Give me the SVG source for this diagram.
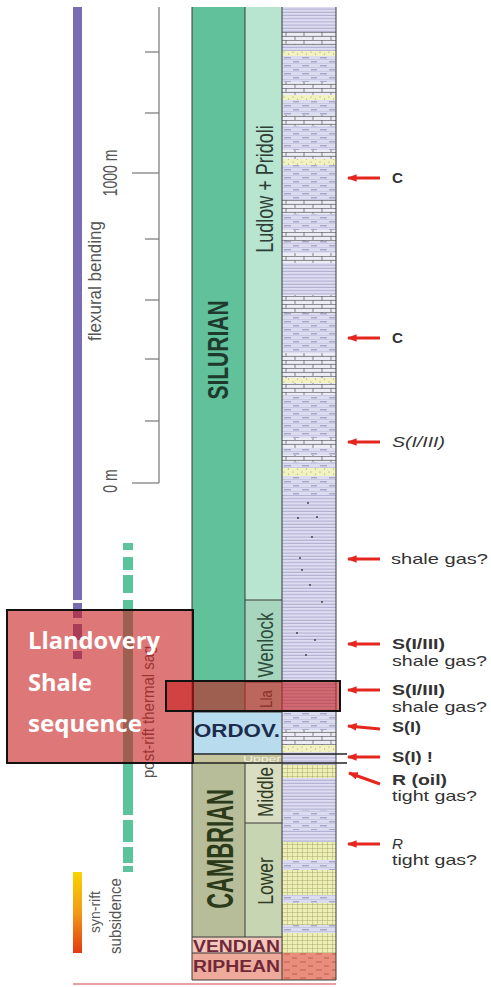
<svg xmlns="http://www.w3.org/2000/svg" width="491" height="987" viewBox="0 0 491 987">
<style>
.t{font-family:"Liberation Sans",Arial,sans-serif}
.b{font-weight:bold}
.cb{stroke:#3a3a3a;stroke-width:1;fill:none}
.gl{font-family:"Liberation Sans",Arial,sans-serif;fill:#555}
.lab{font-family:"Liberation Sans",Arial,sans-serif;font-size:14.5px;fill:#333}
.arr{stroke:#e5261f;stroke-width:3;fill:none;marker-end:url(#ah)}
.tick{stroke:#808080;stroke-width:1.3}
</style>
<defs>
<marker id="ah" viewBox="0 0 10 8" refX="9" refY="4" markerWidth="3.2" markerHeight="2.6" orient="auto"><path d="M0,0 L10,4 L0,8 z" fill="#e5261f"/></marker>
<linearGradient id="syn" x1="0" y1="0" x2="0" y2="1"><stop offset="0" stop-color="#f8d400"/><stop offset="0.5" stop-color="#f29a18"/><stop offset="1" stop-color="#e23a12"/></linearGradient>
<pattern id="pL" x="282" y="0" width="10" height="3.2" patternUnits="userSpaceOnUse"><rect width="10" height="3.2" fill="#dddcf0"/><line x1="0" y1="2.6" x2="10" y2="2.6" stroke="#8e8ebc" stroke-width="0.7"/></pattern>
<pattern id="pM" x="282" y="0" width="18" height="8" patternUnits="userSpaceOnUse"><rect width="18" height="8" fill="#dcdcf0"/><line x1="0" y1="3.5" x2="18" y2="3.5" stroke="#b4b4d4" stroke-width="0.5"/><line x1="0" y1="7.5" x2="18" y2="7.5" stroke="#b4b4d4" stroke-width="0.5"/><line x1="2" y1="1.8" x2="9" y2="1.8" stroke="#7c7cac" stroke-width="0.8"/><line x1="11" y1="5.8" x2="17" y2="5.8" stroke="#7c7cac" stroke-width="0.8"/></pattern>
<pattern id="pC" x="282" y="0" width="18" height="8" patternUnits="userSpaceOnUse"><rect width="18" height="8" fill="#ececf6"/><line x1="0" y1="0.4" x2="18" y2="0.4" stroke="#555" stroke-width="0.7"/><line x1="0" y1="4.4" x2="18" y2="4.4" stroke="#555" stroke-width="0.7"/><line x1="4" y1="0" x2="4" y2="4.4" stroke="#555" stroke-width="0.7"/><line x1="13" y1="4.4" x2="13" y2="8" stroke="#555" stroke-width="0.7"/></pattern>
<pattern id="pY" x="282" y="0" width="9" height="5" patternUnits="userSpaceOnUse"><rect width="9" height="5" fill="#f1f1c2"/><circle cx="2" cy="2" r="0.6" fill="#9a9a50"/><circle cx="6.5" cy="4" r="0.6" fill="#9a9a50"/></pattern>
<pattern id="pS" x="282" y="0" width="5" height="4" patternUnits="userSpaceOnUse"><rect width="5" height="4" fill="#eeefb4"/><path d="M0,0.3 H5 M0.3,0 V4" stroke="#a8a86a" stroke-width="0.6" fill="none"/></pattern>
<pattern id="pR" x="282" y="0" width="16" height="8" patternUnits="userSpaceOnUse"><rect width="16" height="8" fill="#e98e7c"/><line x1="2" y1="2" x2="8" y2="2" stroke="#b5503e" stroke-width="0.8"/><line x1="10" y1="6" x2="15" y2="6" stroke="#b5503e" stroke-width="0.8"/></pattern>
</defs>
<rect width="491" height="987" fill="#fff"/>

<g id="subsidence-bars">
<rect x="73" y="7" width="9" height="593" fill="#7a6cb2"/>
<rect x="73" y="603" width="9" height="15" fill="#7a6cb2"/>
<rect x="73" y="624" width="9" height="16" fill="#7a6cb2"/>
<rect x="73" y="651" width="9" height="8" fill="#7a6cb2"/>
<g fill="#5cc49b">
<rect x="123" y="543" width="10" height="7"/>
<rect x="123" y="557" width="10" height="13"/>
<rect x="123" y="575" width="10" height="18"/>
<rect x="123" y="600" width="10" height="215"/>
<rect x="123" y="820" width="10" height="22"/>
<rect x="123" y="847" width="10" height="16"/>
<rect x="123" y="866" width="10" height="6"/>
</g>
<rect x="73" y="872" width="9" height="81" fill="url(#syn)"/>
</g>

<g id="scale">
<line x1="159" y1="7" x2="159" y2="483" class="tick"/>
<line x1="145" y1="52" x2="159" y2="52" class="tick"/>
<line x1="145" y1="113" x2="159" y2="113" class="tick"/>
<line x1="132" y1="173" x2="159" y2="173" class="tick"/>
<line x1="145" y1="239" x2="159" y2="239" class="tick"/>
<line x1="145" y1="300" x2="159" y2="300" class="tick"/>
<line x1="145" y1="359" x2="159" y2="359" class="tick"/>
<line x1="145" y1="421" x2="159" y2="421" class="tick"/>
<line x1="132" y1="483" x2="159" y2="483" class="tick"/>
<text class="gl" font-size="14" text-anchor="middle" transform="translate(117,173) scale(1.4,1) rotate(-90)">1000 m</text>
<text class="gl" font-size="14" text-anchor="middle" transform="translate(117,481) scale(1.4,1) rotate(-90)">0 m</text>
<text class="gl" font-size="17" text-anchor="middle" transform="translate(101,281) scale(1.05,1) rotate(-90)">flexural bending</text>
<text class="gl" font-size="15" transform="translate(154,778) scale(1.1,1) rotate(-90)">post-rift thermal sag</text>
<text class="gl" font-size="14" text-anchor="middle" transform="translate(100,912) scale(1.1,1) rotate(-90)">syn-rift</text>
<text class="gl" font-size="15" text-anchor="middle" transform="translate(121,916) scale(1.05,1) rotate(-90)">subsidence</text>
</g>

<g id="silurian">
<rect x="192" y="7" width="53" height="705" fill="#60c19b"/>
<text class="t b" font-size="21" fill="#1f3a2c" text-anchor="middle" transform="translate(228,350) scale(1.4,1) rotate(-90)">SILURIAN</text>
</g>
<g id="ludlow-pridoli">
<rect x="245" y="7" width="37" height="593" fill="#b8e5d0"/>
<text class="t" font-size="18" fill="#2e3e36" text-anchor="middle" transform="translate(273,189) scale(1.3,1) rotate(-90)">Ludlow + Pridoli</text>
</g>
<g id="wenlock">
<rect x="245" y="600" width="37" height="82" fill="#a7d5bd"/>
<text class="t" font-size="17" fill="#2a4a3a" text-anchor="middle" transform="translate(273,645) scale(1.3,1) rotate(-90)">Wenlock</text>
</g>
<g id="llandovery">
<rect x="245" y="682" width="37" height="30" fill="#a7d5bd"/>
<text class="t" font-size="13" fill="#2a4a3a" text-anchor="middle" transform="translate(272,699) scale(1.3,1) rotate(-90)">Lla</text>
</g>
<g id="ordovician">
<rect x="192" y="712" width="90" height="43" fill="#b8dced"/>
<text class="t b" x="194" y="737" font-size="19" fill="#1c2c4c" textLength="86" lengthAdjust="spacingAndGlyphs">ORDOV.</text>
</g>
<g id="cambrian">
<rect x="192" y="755" width="53" height="182" fill="#b6bd98"/>
<text class="t b" font-size="22" fill="#2b3a18" text-anchor="middle" transform="translate(233,849) scale(1.65,1) rotate(-90)">CAMBRIAN</text>
</g>
<g id="upper">
<rect x="192" y="755" width="90" height="8" fill="#c6c49a"/>
<text class="t" x="262" y="762" font-size="8.5" fill="#f2f0e0" text-anchor="middle" textLength="38" lengthAdjust="spacingAndGlyphs">Upper</text>
</g>
<g id="middle">
<rect x="245" y="763" width="37" height="60" fill="#d9ddc2"/>
<text class="t" font-size="17" fill="#2e3a22" text-anchor="middle" transform="translate(273,792) scale(1.3,1) rotate(-90)">Middle</text>
</g>
<g id="lower">
<rect x="245" y="823" width="37" height="114" fill="#c8d5b3"/>
<text class="t" font-size="17.5" fill="#2e3a22" text-anchor="middle" transform="translate(273,881) scale(1.3,1) rotate(-90)">Lower</text>
</g>
<g id="vendian">
<rect x="192" y="937" width="90" height="16" fill="#f2c9bc"/>
<text class="t b" x="193" y="952" font-size="16" fill="#702838" textLength="87" lengthAdjust="spacingAndGlyphs">VENDIAN</text>
</g>
<g id="riphean">
<rect x="192" y="953" width="90" height="27" fill="#eeaa9a"/>
<text class="t b" x="193" y="972" font-size="16" fill="#702838" textLength="87" lengthAdjust="spacingAndGlyphs">RIPHEAN</text>
</g>

<g id="lithology">
<rect x="282" y="7" width="54" height="973" fill="url(#pL)"/>
<rect x="282" y="32" width="54" height="13" fill="url(#pC)"/>
<rect x="282" y="51" width="54" height="5" fill="url(#pY)"/>
<rect x="282" y="56" width="54" height="26" fill="url(#pM)"/>
<rect x="282" y="82" width="54" height="13" fill="url(#pC)"/>
<rect x="282" y="95" width="54" height="5" fill="url(#pY)"/>
<rect x="282" y="100" width="54" height="15" fill="url(#pM)"/>
<rect x="282" y="115" width="54" height="11" fill="url(#pC)"/>
<rect x="282" y="126" width="54" height="24" fill="url(#pM)"/>
<rect x="282" y="150" width="54" height="9" fill="url(#pC)"/>
<rect x="282" y="159" width="54" height="6" fill="url(#pY)"/>
<rect x="282" y="165" width="54" height="35" fill="url(#pM)"/>
<rect x="282" y="200" width="54" height="14" fill="url(#pC)"/>
<rect x="282" y="214" width="54" height="16" fill="url(#pM)"/>
<rect x="282" y="230" width="54" height="11" fill="url(#pC)"/>
<rect x="282" y="241" width="54" height="12" fill="url(#pM)"/>
<rect x="282" y="253" width="54" height="10" fill="url(#pC)"/>
<rect x="282" y="295" width="54" height="18" fill="url(#pC)"/>
<rect x="282" y="313" width="54" height="40" fill="url(#pM)"/>
<rect x="282" y="353" width="54" height="25" fill="url(#pC)"/>
<rect x="282" y="378" width="54" height="5" fill="url(#pY)"/>
<rect x="282" y="383" width="54" height="12" fill="url(#pC)"/>
<rect x="282" y="395" width="54" height="43" fill="url(#pM)"/>
<rect x="282" y="438" width="54" height="10" fill="url(#pC)"/>
<rect x="282" y="448" width="54" height="7" fill="url(#pM)"/>
<rect x="282" y="455" width="54" height="7" fill="url(#pC)"/>
<rect x="282" y="462" width="54" height="6" fill="url(#pM)"/>
<rect x="282" y="468" width="54" height="8" fill="url(#pY)"/>
<rect x="282" y="476" width="54" height="19" fill="url(#pM)"/>
<rect x="282" y="712" width="54" height="18" fill="url(#pM)"/>
<rect x="282" y="730" width="54" height="15" fill="url(#pC)"/>
<rect x="282" y="745" width="54" height="7" fill="url(#pY)"/>
<rect x="282" y="765" width="54" height="13" fill="url(#pS)"/>
<rect x="282" y="810" width="54" height="20" fill="url(#pM)"/>
<rect x="282" y="842" width="54" height="18" fill="url(#pS)"/>
<rect x="282" y="860" width="54" height="10" fill="url(#pM)"/>
<rect x="282" y="870" width="54" height="25" fill="url(#pS)"/>
<rect x="282" y="895" width="54" height="8" fill="url(#pM)"/>
<rect x="282" y="903" width="54" height="22" fill="url(#pS)"/>
<rect x="282" y="925" width="54" height="8" fill="url(#pM)"/>
<rect x="282" y="933" width="54" height="20" fill="url(#pS)"/>
<rect x="282" y="953" width="54" height="27" fill="url(#pR)"/>
<g fill="#333">
<circle cx="308" cy="503" r="0.9"/><circle cx="298" cy="518" r="0.9"/><circle cx="317" cy="517" r="0.9"/>
<circle cx="312" cy="537" r="0.9"/><circle cx="300" cy="558" r="0.9"/><circle cx="302" cy="570" r="0.9"/>
<circle cx="310" cy="585" r="0.9"/><circle cx="322" cy="602" r="0.9"/><circle cx="297" cy="633" r="0.9"/>
<circle cx="315" cy="640" r="0.9"/><circle cx="306" cy="655" r="0.9"/>
</g>
</g>

<g id="borders">
<line x1="192" y1="7" x2="192" y2="980" class="cb"/>
<line x1="245" y1="7" x2="245" y2="712" class="cb"/>
<line x1="245" y1="763" x2="245" y2="937" class="cb"/>
<line x1="282" y1="7" x2="282" y2="980" class="cb"/>
<line x1="336" y1="7" x2="336" y2="980" class="cb" stroke-width="1.3"/>
<line x1="245" y1="600" x2="282" y2="600" class="cb"/>
<line x1="245" y1="682" x2="282" y2="682" class="cb"/>
<line x1="192" y1="712" x2="282" y2="712" class="cb"/>
<line x1="245" y1="823" x2="282" y2="823" class="cb"/>
<line x1="192" y1="937" x2="282" y2="937" class="cb"/>
<line x1="192" y1="953" x2="282" y2="953" class="cb"/>
<line x1="192" y1="980" x2="336" y2="980" class="cb"/>
<line x1="192" y1="754" x2="347" y2="754" stroke="#222" stroke-width="1.3"/>
<line x1="192" y1="763" x2="347" y2="763" stroke="#222" stroke-width="1.3"/>
<line x1="73" y1="984" x2="336" y2="984" stroke="#eaa0a0" stroke-width="2"/>
</g>

<g id="connectors">
<line x1="380" y1="178" x2="348" y2="178" class="arr"/>
<line x1="380" y1="338" x2="348" y2="338" class="arr"/>
<line x1="380" y1="442" x2="348" y2="442" class="arr"/>
<line x1="380" y1="559" x2="348" y2="559" class="arr"/>
<line x1="380" y1="644" x2="348" y2="644" class="arr"/>
<line x1="380" y1="690" x2="348" y2="690" class="arr"/>
<line x1="380" y1="729" x2="348" y2="726" class="arr"/>
<line x1="380" y1="757" x2="348" y2="757" class="arr"/>
<line x1="380" y1="784" x2="349" y2="773" class="arr"/>
<line x1="380" y1="844" x2="348" y2="844" class="arr"/>
</g>

<g id="labels">
<text class="lab b" x="392" y="183" fill="#222" textLength="11" lengthAdjust="spacingAndGlyphs">C</text>
<text class="lab b" x="392" y="343" fill="#222" textLength="11" lengthAdjust="spacingAndGlyphs">C</text>
<text class="lab" x="392" y="447" font-style="italic" fill="#666" textLength="53" lengthAdjust="spacingAndGlyphs">S(I/III)</text>
<text class="lab" x="391" y="564" textLength="97" lengthAdjust="spacingAndGlyphs">shale gas?</text>
<text class="lab b" x="392" y="649" fill="#222" textLength="53" lengthAdjust="spacingAndGlyphs">S(I/III)</text>
<text class="lab" x="392" y="666" textLength="95" lengthAdjust="spacingAndGlyphs">shale gas?</text>
<text class="lab b" x="392" y="695" fill="#222" textLength="53" lengthAdjust="spacingAndGlyphs">S(I/III)</text>
<text class="lab" x="392" y="712" textLength="95" lengthAdjust="spacingAndGlyphs">shale gas?</text>
<text class="lab b" x="392" y="732" fill="#222" textLength="29" lengthAdjust="spacingAndGlyphs">S(I)</text>
<text class="lab b" x="392" y="762" fill="#222" textLength="41" lengthAdjust="spacingAndGlyphs">S(I) !</text>
<text class="lab b" x="392" y="785" fill="#222" textLength="55" lengthAdjust="spacingAndGlyphs">R (oil)</text>
<text class="lab" x="392" y="801" font-size="14" textLength="85" lengthAdjust="spacingAndGlyphs">tight gas?</text>
<text class="lab" x="392" y="849" font-style="italic" textLength="11" lengthAdjust="spacingAndGlyphs">R</text>
<text class="lab" x="392" y="865" textLength="85" lengthAdjust="spacingAndGlyphs">tight gas?</text>
</g>

<g id="llandovery-highlight">
<rect x="7" y="610" width="186" height="153" fill="#c81e1e" fill-opacity="0.6" stroke="#111" stroke-width="2"/>
<rect x="166" y="681" width="174" height="30" fill="#c81e1e" fill-opacity="0.6" stroke="#111" stroke-width="2"/>
<g font-family="'Open Sans','Noto Sans',sans-serif" font-weight="bold" font-size="24" fill="#fff">
<text x="28" y="649" textLength="132" lengthAdjust="spacingAndGlyphs">Llandovery</text>
<text x="28" y="691" textLength="64" lengthAdjust="spacingAndGlyphs">Shale</text>
<text x="28" y="732" textLength="114" lengthAdjust="spacingAndGlyphs">sequence</text>
</g>
</g>
</svg>
